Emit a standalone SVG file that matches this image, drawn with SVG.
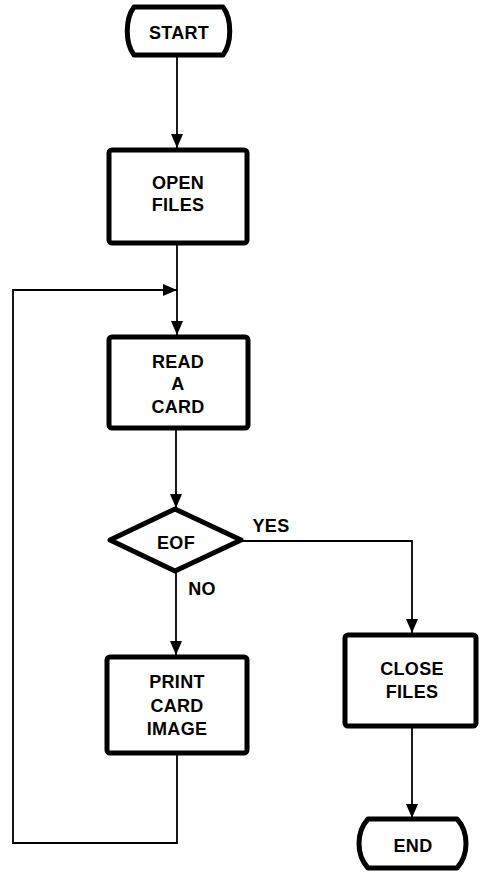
<svg xmlns="http://www.w3.org/2000/svg" width="482" height="877" viewBox="0 0 482 877">
  <style>
    .shape { fill: #fff; stroke: #000; stroke-width: 5; stroke-linejoin: round; }
    .conn { fill: none; stroke: #000; stroke-width: 1.8; }
    text { font-family: "Liberation Sans", Arial, sans-serif; font-weight: bold; font-size: 18px; fill: #000; text-anchor: middle; letter-spacing: 0.3px; }
  </style>
  <defs>
    <marker id="ah" markerUnits="userSpaceOnUse" markerWidth="14" markerHeight="12" refX="14" refY="6" orient="auto">
      <path d="M0,0 L14,6 L0,12 Z" fill="#000"/>
    </marker>
  </defs>
  <rect width="482" height="877" fill="#fff"/>

  <g id="connectors">
    <path class="conn" d="M177,57 V148" marker-end="url(#ah)"/>
    <path class="conn" d="M177,245 V335" marker-end="url(#ah)"/>
    <path class="conn" d="M177,755 V843 H13 V290 H177" marker-end="url(#ah)"/>
    <path class="conn" d="M176,430 V508" marker-end="url(#ah)"/>
    <path class="conn" d="M176,571 V655" marker-end="url(#ah)"/>
    <path class="conn" d="M241,541 H412 V633" marker-end="url(#ah)"/>
    <path class="conn" d="M412,728 V818" marker-end="url(#ah)"/>
  </g>

  <g id="start">
    <path class="shape" d="M134,7 L223,7 C232,19 232,43 223,55 L134,55 C125,43 125,19 134,7 Z"/>
    <text x="179" y="39">START</text>
  </g>
  <g id="open-files">
    <rect class="shape" x="109" y="150" width="138" height="93" rx="3"/>
    <text x="178" y="189">OPEN</text>
    <text x="178" y="211">FILES</text>
  </g>
  <g id="read-card">
    <rect class="shape" x="109" y="337" width="139" height="91" rx="3"/>
    <text x="178" y="368">READ</text>
    <text x="178" y="390">A</text>
    <text x="178" y="413">CARD</text>
  </g>
  <g id="eof">
    <polygon class="shape" points="110,540 175,509 241,540 175,571"/>
    <text x="176" y="549">EOF</text>
  </g>
  <text x="271" y="532">YES</text>
  <text x="202" y="595">NO</text>
  <g id="print-card-image">
    <rect class="shape" x="107" y="657" width="140" height="96" rx="3"/>
    <text x="177" y="688">PRINT</text>
    <text x="177" y="712">CARD</text>
    <text x="177" y="735">IMAGE</text>
  </g>
  <g id="close-files">
    <rect class="shape" x="345" y="635" width="131" height="91" rx="3"/>
    <text x="412" y="675">CLOSE</text>
    <text x="412" y="698">FILES</text>
  </g>
  <g id="end">
    <path class="shape" d="M368,819 L457,819 C469,832 469,855 457,868 L368,868 C356,855 356,832 368,819 Z"/>
    <text x="413" y="852">END</text>
  </g>
</svg>
